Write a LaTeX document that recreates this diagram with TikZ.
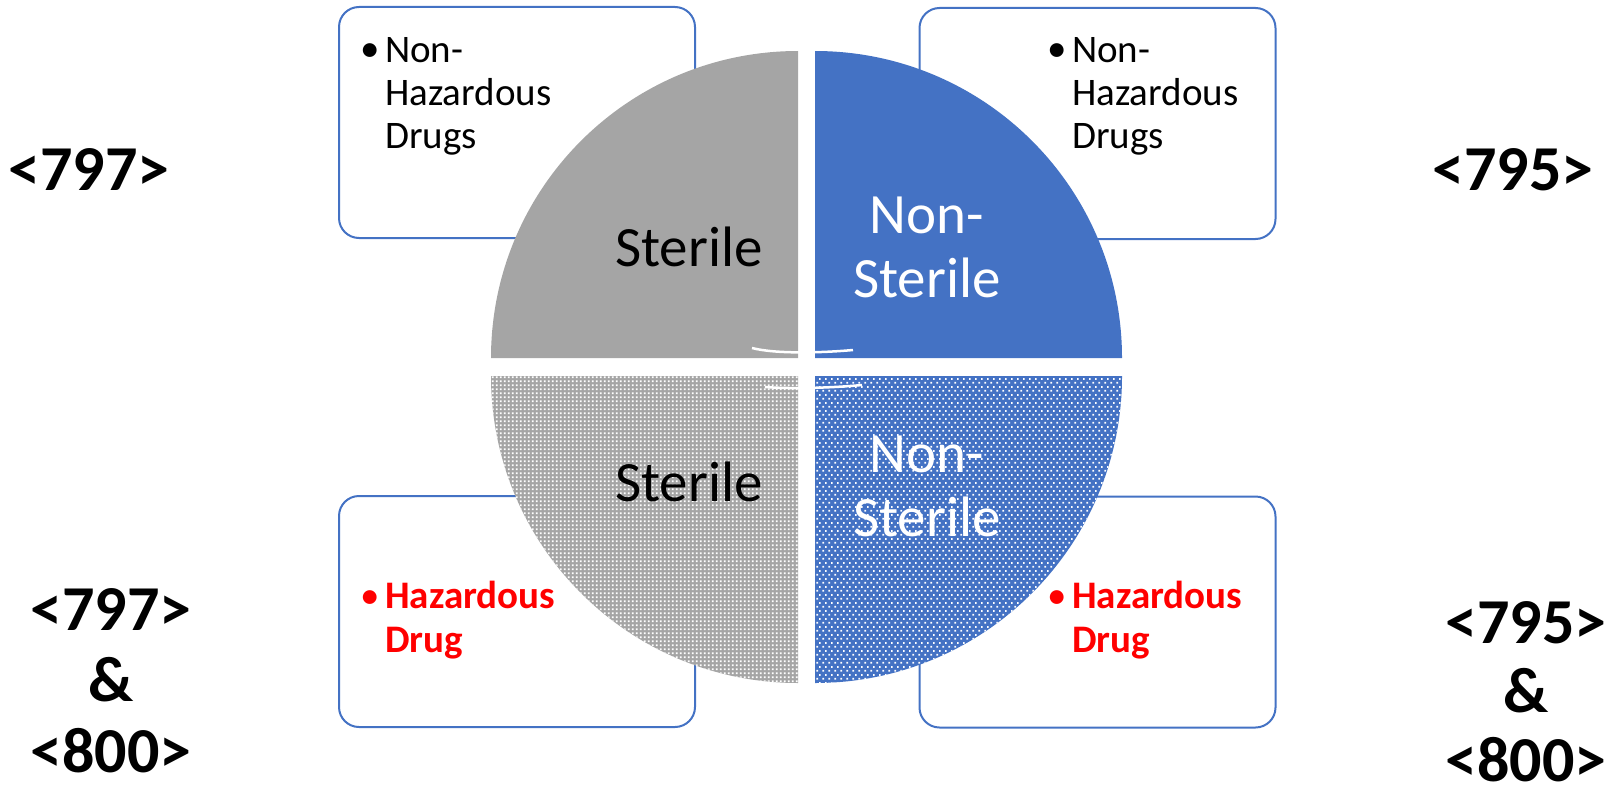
\documentclass[tikz,border=0pt]{standalone}
\usepackage{fontspec}
\setmainfont{Carlito}
\usepackage{xcolor}
\usetikzlibrary{patterns, positioning}

\definecolor{accentblue}{HTML}{4472C4}
\definecolor{accentgrey}{HTML}{A5A5A5}
\definecolor{hazred}{HTML}{FF0000}

% dotted fills of the lower quadrants
\pgfdeclarepatternformonly{bluedots}{\pgfpointorigin}{\pgfqpoint{6pt}{8pt}}{\pgfqpoint{6pt}{8pt}}{%
  \pgfpathrectangle{\pgfqpoint{0.5pt}{0.5pt}}{\pgfqpoint{2pt}{2pt}}%
  \pgfpathrectangle{\pgfqpoint{3.5pt}{4.5pt}}{\pgfqpoint{2pt}{2pt}}%
  \pgfusepath{fill}}
\pgfdeclarepatternformonly{greydots}{\pgfpointorigin}{\pgfqpoint{4.2pt}{4.2pt}}{\pgfqpoint{4.2pt}{4.2pt}}{%
  \pgfpathrectangle{\pgfqpoint{1pt}{1pt}}{\pgfqpoint{2pt}{2pt}}%
  \pgfusepath{fill}}

\begin{document}
\begin{tikzpicture}[
    x=1pt, y=-1pt,
    infobox/.style={rectangle, draw=accentblue, line width=2pt, rounded corners=20pt, fill=white, minimum width=356pt, minimum height=231pt},
    boxtext/.style={anchor=base west, align=left, inner sep=0pt, font=\fontsize{39}{43}\selectfont},
    haztext/.style={boxtext, font=\fontsize{39}{44}\selectfont\bfseries, text=hazred},
    bulletmark/.style={anchor=base east, inner sep=0pt, xshift=-5pt, font=\fontsize{39}{43}\selectfont},
    quadlabel/.style={anchor=base, align=center, inner sep=0pt, font=\fontsize{57}{64}\selectfont},
    codelabel/.style={anchor=base, align=center, inner sep=0pt, font=\fontsize{64}{71}\selectfont\bfseries},
    seam/.style={draw=white, line width=2.5pt}
]
\useasboundingbox (0,0) rectangle (1613,792);

% Boxes
\node (tlbox) [infobox] at (517,122.5) {};
\node (trbox) [infobox] at (1097.5,123.5) {};
\node (blbox) [infobox] at (517,611.5) {};
\node (brbox) [infobox] at (1097.5,612) {};

% Quadrants
\fill[accentgrey] (798,358) -- (491,358) arc[start angle=180, end angle=270, radius=307] -- cycle;
\fill[accentblue] (815,358) -- (815,51) arc[start angle=270, end angle=360, radius=307] -- cycle;
\path[fill=accentgrey, postaction={pattern=greydots, pattern color=white}]
  (798,376) -- (491,376) arc[start angle=180, end angle=90, radius=307] -- cycle;
\path[fill=accentblue, postaction={pattern=bluedots, pattern color=white}]
  (815,376) -- (1122,376) arc[start angle=0, end angle=90, radius=307] -- cycle;

\draw[seam] (752,348) .. controls (775,354) and (820,353) .. (853,350);
\draw[seam] (765,387) .. controls (790,389) and (830,388) .. (862,385);

% Box texts (base = last line)
\node (tlbullet) [bulletmark] at (385,62) {•};
\node (tltext) [boxtext] at (385,148) {Non-\\Hazardous\\Drugs};
\node (trbullet) [bulletmark] at (1072,62) {•};
\node (trtext) [boxtext] at (1072,148) {Non-\\Hazardous\\Drugs};
\node (blbullet) [bulletmark, text=hazred] at (385,608) {•};
\node (bltext) [haztext] at (385,652) {Hazardous\\Drug};
\node (brbullet) [bulletmark, text=hazred] at (1072,608) {•};
\node (brtext) [haztext] at (1072,652) {Hazardous\\Drug};

% Quadrant labels
\node (tlquad) [quadlabel] at (689,266) {Sterile};
\node (trquad) [quadlabel, text=white] at (927,297) {Non-\\Sterile};
\node (blquad) [quadlabel] at (689,501) {Sterile};
\node (brquad) [quadlabel, text=white] at (927,536) {Non-\\Sterile};

% Chapter labels
\node (tlcode) [codelabel] at (89,190) {<797>};
\node (trcode) [codelabel] at (1513,190) {<795>};
\node (blcode) [codelabel] at (111,772) {<797>\\\&\\<800>};
\node (brcode) [codelabel, font=\fontsize{64}{69}\selectfont\bfseries] at (1526,781) {<795>\\\&\\<800>};

\end{tikzpicture}
\end{document}
